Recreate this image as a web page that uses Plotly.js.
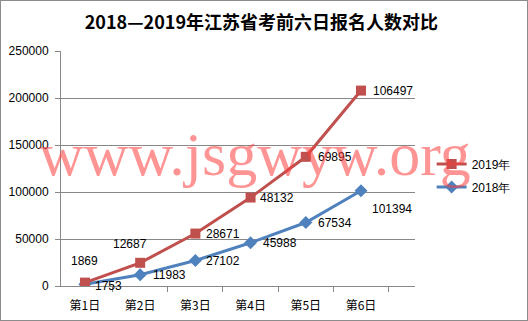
<!DOCTYPE html>
<html>
<head>
<meta charset="utf-8">
<script src="https://cdn.plot.ly/plotly-3.0.1.min.js"></script>
<style>
html,body{margin:0;padding:0;background:#fff;}
#wrap{position:relative;width:528px;height:321px;}
#chart{width:528px;height:321px;}
#frame{position:absolute;left:0;top:0;width:526px;height:319px;border:1px solid #8c8c8c;pointer-events:none;}
</style>
</head>
<body>
<div id="wrap"><div id="chart"></div><div id="frame"></div></div>
<script>
// Data
const categories = ['第1日','第2日','第3日','第4日','第5日','第6日'];
const values2018 = [1753, 11983, 27102, 45988, 67534, 101394];
const values2019 = [1869, 12687, 28671, 48132, 69895, 106497];
const yTicks = [0, 50000, 100000, 150000, 200000, 250000];

// Label pixel offsets (style only)
const off2018 = [[24,-2],[29,0],[28,0],[29,0],[29,0],[31,-18]];
const off2019 = [[0,22],[-10,19],[28,0],[26,0],[29,0],[32,0]];

const red = '#C0504D', blue = '#4F81BD';

const t2018 = {
  x: categories, y: values2018, name: '2018年', type: 'scatter', mode: 'lines+markers',
  stackgroup: 'one', fill: 'none', legendgroup: 'a', legendrank: 2,
  line: {color: blue, width: 3}, marker: {symbol: 'diamond', size: 10, color: blue},
  hoverinfo: 'skip'
};
const t2019 = {
  x: categories, y: values2019, name: '2019年', type: 'scatter', mode: 'lines+markers',
  stackgroup: 'one', fill: 'none', legendgroup: 'b', legendrank: 1,
  line: {color: red, width: 3}, marker: {symbol: 'square', size: 10, color: red},
  hoverinfo: 'skip'
};

const annotations = [];
categories.forEach((c, i) => {
  annotations.push({x: c, y: values2018[i], xref: 'x', yref: 'y', text: String(values2018[i]),
    showarrow: false, xshift: off2018[i][0], yshift: off2018[i][1],
    font: {family: 'Liberation Sans, Arial', size: 12, color: '#000'}});
  annotations.push({x: c, y: values2018[i] + values2019[i], xref: 'x', yref: 'y', text: String(values2019[i]),
    showarrow: false, xshift: off2019[i][0], yshift: off2019[i][1],
    font: {family: 'Liberation Sans, Arial', size: 12, color: '#000'}});
});
annotations.push({
  xref: 'paper', yref: 'paper', x: 0.548, y: 0.56, xanchor: 'center', yanchor: 'middle',
  text: 'www.jsgwyw.org', showarrow: false,
  font: {family: 'Liberation Serif, Times New Roman', size: 62, color: 'rgba(255,60,60,0.55)'}
});

const layout = {
  width: 528, height: 321,
  margin: {l: 61, r: 105, t: 51, b: 35},
  paper_bgcolor: '#fff', plot_bgcolor: '#fff',
  title: {text: '2018—2019年江苏省考前六日报名人数对比', x: 0.495, xanchor: 'center', y: 0.93, yanchor: 'middle',
    font: {family: 'Noto Sans CJK SC', size: 18, color: '#000', weight: 'bold'}},
  xaxis: {type: 'category', showgrid: false, showline: true, linecolor: '#888', linewidth: 1,
    ticks: 'outside', tickson: 'boundaries', ticklen: 5, tickcolor: '#888', ticklabelstandoff: 9,
    tickfont: {family: 'Noto Sans CJK SC', size: 12, color: '#000'}, zeroline: false, fixedrange: true},
  yaxis: {range: [0, 250000], tickvals: yTicks, ticktext: yTicks.map(String), showgrid: true, gridcolor: '#888', gridwidth: 1,
    showline: true, linecolor: '#888', ticks: 'outside', ticklen: 5, tickcolor: '#888', zeroline: false, ticklabelstandoff: 4,
    tickfont: {family: 'Liberation Sans, Arial', size: 12, color: '#000'}, fixedrange: true},
  showlegend: true,
  legend: {x: 1.047, xanchor: 'left', y: 0.47, yanchor: 'middle', traceorder: 'grouped', tracegroupgap: 4,
    font: {family: 'Liberation Sans, Arial', size: 12, color: '#000'}, bgcolor: 'rgba(0,0,0,0)'},
  annotations: annotations
};

Plotly.newPlot('chart', [t2018, t2019], layout, {displayModeBar: false, staticPlot: true});
</script>
</body>
</html>
